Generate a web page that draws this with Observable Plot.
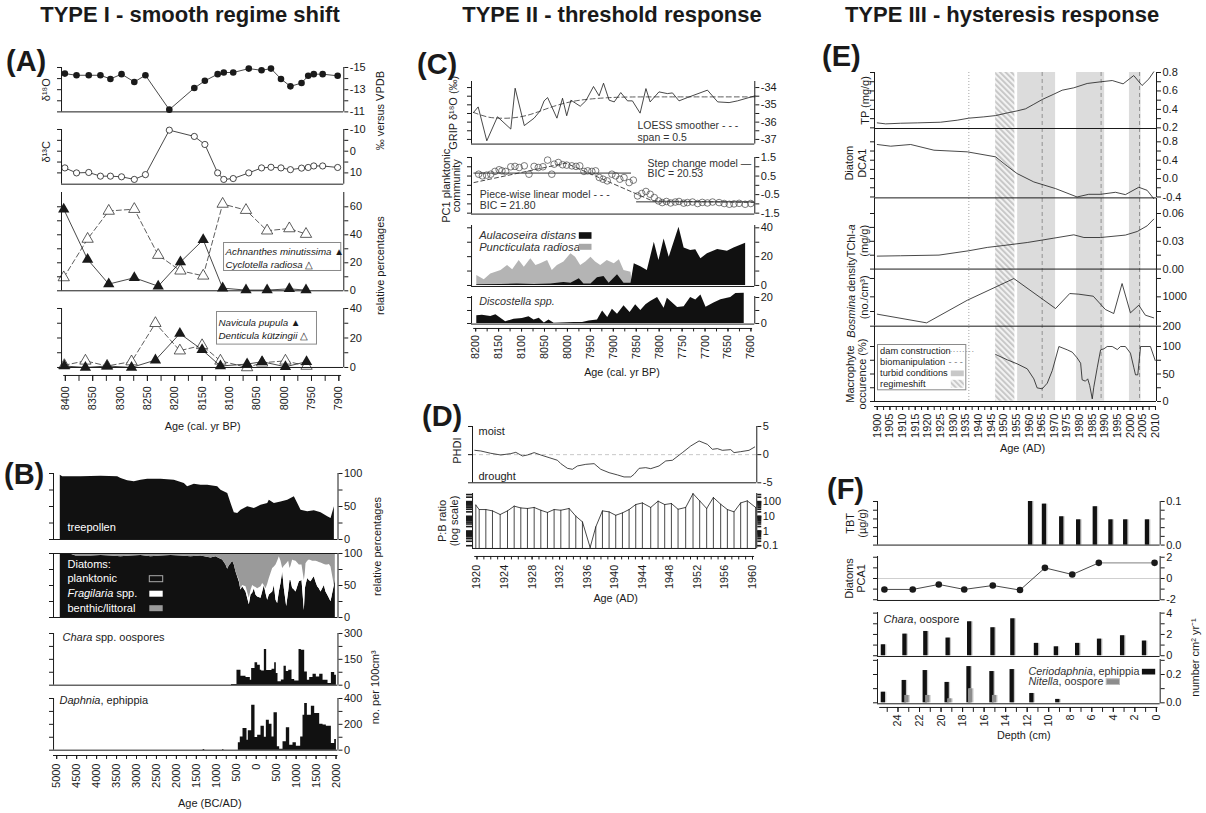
<!DOCTYPE html>
<html><head><meta charset="utf-8">
<script src="https://cdn.jsdelivr.net/npm/d3@7"></script>
<script src="https://cdn.jsdelivr.net/npm/@observablehq/plot@0.6"></script>
<style>
body{margin:0;background:#fff;}
#fig{position:relative;width:1206px;height:813px;overflow:hidden;font-family:"Liberation Sans",Arial,Helvetica,sans-serif;color:#1a1a1a;}
.ttl{position:absolute;top:4px;font-weight:bold;font-size:22px;line-height:1;text-align:center;white-space:nowrap;}
.lett{position:absolute;font-weight:bold;font-size:29px;line-height:1;}
</style></head><body><div id="fig">
<div class="ttl" style="left:20px;width:340px">TYPE I - smooth regime shift</div>
<div class="ttl" style="left:442px;width:340px">TYPE II - threshold response</div>
<div class="ttl" style="left:827px;width:350px">TYPE III - hysteresis response</div>
<div class="lett" style="left:6px;top:47px">(A)</div>
<div class="lett" style="left:4px;top:460px">(B)</div>
<div class="lett" style="left:417px;top:50px">(C)</div>
<div class="lett" style="left:422px;top:402px">(D)</div>
<div class="lett" style="left:822px;top:42px">(E)</div>
<div class="lett" style="left:827px;top:475px">(F)</div>
</div>
<script>
// ---------------- DATA ----------------
// Panel A
const aIsoAge = [8397,8376,8354,8333,8315,8295,8272,8252,8209,8164,8145,8122,8111,8094,8066,8043,8026,8008,7991,7971,7959,7949,7933,7906];
const aD18O = [-14.45,-14.3,-14.3,-14.3,-13.97,-14.4,-13.7,-14.3,-11.2,-13.15,-13.8,-14.4,-14.55,-14.55,-14.9,-14.75,-14.9,-13.97,-13.3,-13.6,-14.25,-14.4,-14.4,-14.25];
const aD13C = [7.7,10,9.8,11.5,11.5,11.8,13,10.8,-9.7,-6.8,-3.1,10,13,12.6,10,7.7,7.4,7.7,8.5,7.8,7.5,6.8,6.8,7.5];
const aDiatAge = [8399,8356,8318,8272,8229,8189,8148,8113,8071,8033,7993,7963];
const achnanthes = [58.3,22.4,4.8,9.3,3.3,20.5,36.4,1.9,0.5,0.5,1.4,0.5];
const cyclotella = [9.5,37,57,58.3,25.5,14.3,10.7,62,57.6,42.9,44.5,40.5];
const aDiat2Age = [8398,8360,8321,8277,8234,8190,8150,8117,8069,8042,8000,7962];
const navicula = [1,0,1,0,5,23,12,1,2.3,3.9,0.5,3.9];
const denticula = [1.5,4.5,1,4,30,11.4,15,4.5,0,3.2,4.5,1];
// Panel B
const bTreeAge = [-4910,-4850,-4391,-3890,-3471,-3388,-3221,-3055,-2887,-2719,-2385,-2053,-1802,-1718,-1551,-1384,-1216,-965,-882,-714,-631,-549,-464,-381,-213,-47,120,288,328,454,622,789,955,1040,1123,1290,1456,1624,1792,1875,1958];
const bTree = [97.5,95,95,96,95,92.4,88.9,87.4,89.9,91.4,91.4,89.9,84.8,79.8,83.8,82.3,82.3,79.8,74.7,69.7,54.5,40.4,39.4,44.4,49.5,47,52,54.5,59.6,54.5,57,59.6,64.6,54.5,44.4,41.9,43.4,40.4,34.3,31.8,49.5];
const bDiatAge = [-4910,-4642,-4516,-4140,-3890,-3639,-3389,-3138,-2887,-2637,-2386,-2136,-1885,-1635,-1384,-1133,-1008,-924,-841,-757,-716,-674,-632,-590,-549,-507,-423,-382,-340,-256,-173,-131,-89,-47,-6,36,120,161,203,245,287,328,412,454,496,537,579,621,663,704,763,813,846,871,913,930,997,1080,1147,1206,1231,1247,1289,1331,1373,1414,1456,1498,1540,1581,1623,1665,1707,1748,1790,1832,1874,1957,1982];
const bPlanktonic = [100,99,96,96,97,96,95,96,97,95,96,97,96,95,96,93,95,92,90,82,75.5,81,84,88,82,71,56,43,48,40,20,35,38,45,35,32,30,40,50,37.5,27,35,40,50,27,22,40,53,71,45,17,40,58,58,45,45,40,56,58,11,45,50,61,58,56,60,63.5,55,48,45,40,45,50,40,35,30,24.5,50,61];
const bFragilaria = [0,0,0,0,0,0,0,0,0,0,0,0,0,0,0,0,0,0,0,0,0,0,0,0,0,0,2,2,2,8,10,7,12,3,12,13,18,13,0,7.5,25,26,36.5,29,55,66,55,35,5.5,35,67,48,18.5,22,45,44,48,26,24,47,25,34,27,32,33,28,24.5,33,39,41,45,39,33,42,47,53,54.5,0,0];
const bBenthic = [0,1,4,4,3,4,5,4,3,5,4,3,4,5,4,7,5,8,10,18,24.5,19,16,12,18,29,42,55,50,52,70,58,50,52,53,55,52,47,50,55,48,39,23.5,21,18,12,5,12,23.5,20,16,12,23.5,20,10,11,12,18,18,42,30,16,12,10,11,12,12,12,13,14,15,16,17,18,18,17,21,50,39];
const bCharaAge = [-620,-482,-382,-256,-148,-114,-30,36,103,137,204,262,396,463,504,546,630,697,755,814,897,964,1073,1131,1215,1282,1340,1424,1507,1591,1675,1800,1884,1967,2010];
const bChara = [4,87,52,44.5,29,96.7,129.6,116,87,83,207,85,92.8,129.6,67.7,19.3,30,110,80,87,33,25,207,203,77,29,44.5,64,48,64,29,9.7,73.5,58,0];
const bDaphAge = [-1330,-1290,-840,-810,-448,-399,-331,-231,-198,-114,-30,36,120,204,254,329,396,446,530,588,672,755,839,922,1006,1114,1173,1215,1282,1382,1466,1591,1675,1758,1884,1967,2010];
const bDaph = [6,0,5,0,57,103,168,77,150,348,98,116,186,100,232,201,103,289,26,8,65,173,39,57,31,103,271,361,271,340,284,201,194,186,52,83,0];
// Panel C
const cGripAge = [8200,8190,8171.5,8148.6,8120,8110.7,8091,8070,8057,8048.5,8041,8021,8009,8000,7991,7971,7959,7942.5,7930.5,7921,7909,7898,7884,7869.5,7859,7842.5,7830,7821,7802,7784,7773,7759,7741,7698,7676,7651.5,7633.5,7596];
const cGrip = [-35.44,-35.12,-37.08,-35.69,-36.4,-34.04,-36.2,-35.77,-35.35,-34.77,-34.58,-35.77,-34.62,-35.63,-34.73,-35.08,-34.77,-33.94,-34.48,-33.75,-34.73,-34.83,-34.29,-34.77,-34.77,-35.48,-34.06,-34.83,-34.25,-34.35,-34.31,-34.77,-34.58,-34.15,-34.83,-34.87,-34.77,-34.48];
const cLoessAge = [8200,8170,8150,8120,8084,8056,8020,7984,7955,7912,7870,7800,7700,7596];
const cLoess = [-35.44,-35.73,-35.77,-35.79,-35.63,-35.35,-35.0,-34.77,-34.67,-34.58,-34.54,-34.54,-34.54,-34.54];
const cPcAge = [8189,8181,8172,8163,8154,8145,8139,8131,8120,8111,8102,8091,8081,8070,8061,8051,8041,8032,8027,8018,8009,8000,7989,7980,7972,7963,7955,7946,7938,7930,7922,7913,7903,7895,7886,7877,7866,7857,7848,7839,7830,7821,7812,7803,7795,7786,7777,7767,7759,7749,7741,7730,7719,7709,7698,7687,7673,7662,7651,7641,7630,7617,7605];
const cPc = [0.6,0.51,0.55,0.6,0.75,0.84,0.78,0.75,1.0,1.02,0.96,1.05,0.6,1.02,0.96,1.0,1.36,0.6,1.14,1.23,1.11,1.09,1.05,1.02,1.05,0.75,0.78,0.75,0.78,0.42,0.33,0.24,0.6,0.51,0.33,0.42,0.15,0.28,-0.57,-0.44,-0.33,-0.48,-0.66,-0.84,-0.93,-0.87,-0.95,-0.9,-0.87,-0.96,-0.93,-0.9,-0.98,-0.92,-0.95,-0.9,-0.93,-0.98,-1.02,-1.0,-0.97,-1.02,-0.98];
const cStepStart = [8199,7850];
const cStepEnd = [7861,7598];
const cStepLevel = [0.66,-0.89];
const cPwAge = [8199,8002,7816,7598];
const cPw = [0.15,1.2,-0.84,-0.92];
const cPunctAge = [8193,8177,8163,8141,8127,8116,8102,8091,8077,8066,8056,8041,8031,8020,8006,7991,7981,7970,7959,7948,7938,7927,7913,7898,7887,7877,7862,7859];
const cPunct = [7,4,8,10.4,13.9,10.9,17.3,12.7,18.5,13.9,15,17.3,10.4,13.9,16.2,22,19.6,13.9,16.2,19.6,16.2,13.9,17.3,15,17.8,10.4,9.2,0];
const cAulaAge = [8193,8141,8106,8070,8034,8006,7991,7973,7963,7948,7934,7920,7909,7891,7877,7862,7855,7841,7827,7812,7802,7791,7780,7766,7759,7748,7734,7723,7712,7698,7676,7655,7641,7616];
const cAula = [0.5,0.7,1,0.7,1,2,1.5,4.6,1,1,5.3,6.2,1.5,7.4,1.5,1.5,15,13,10.4,30,17.3,32.3,19.6,33.5,40.4,26,24.2,24.7,18.5,22,25,23.8,26,29.3];
const cDiscAge = [8193,8181,8163,8152,8131,8113,8095,8081,8070,8059,8048,8038,8027,8013,7998,7984,7966,7952,7934,7923,7912,7902,7891,7877,7864,7852,7841,7830,7820,7805,7791,7784,7762,7748,7734,7723,7712,7701,7684,7669,7648,7637,7619];
const cDisc = [5.9,6.4,5.4,6.7,1.3,3.3,3.8,5.1,2.6,4.1,0.3,2.6,0.2,0.4,0.6,0.8,0.8,2,2.6,9.7,4.6,11,7.2,13.6,8.5,14.4,10,14.4,17,20,11.8,19.5,12.3,12.8,20,18,22,12.5,15.75,18.25,20,23,23.2];
// Panel D
const dPhdiYear = [1920,1920.86,1922.29,1923.71,1925.14,1925.86,1926.81,1927.52,1928.48,1929.43,1930.62,1931.81,1932.29,1933.24,1933.95,1934.67,1935.86,1937.05,1938,1939.19,1940.38,1941.33,1942.29,1942.76,1943.48,1944.43,1945.14,1946.33,1947.29,1948.24,1949.67,1950.86,1952.05,1953.24,1953.95,1954.67,1955.38,1956.57,1957.05,1958,1959.19,1960];
const dPhdi = [0.77,0.65,0.24,-0.06,0.18,0.41,-0.24,-0.06,0.36,-0.06,-0.53,-1.0,-1.6,-2.43,-2.6,-2.01,-1.72,-1.6,-2.6,-3.2,-3.6,-3.96,-3.96,-3.49,-2.43,-2.31,-2.49,-2.01,-1.12,-1.0,0.36,1.54,2.43,1.83,0.95,1.07,0.77,0.89,0.36,0.53,0.77,1.36];
const dPbYear = [1920.14,1920.62,1921.57,1922.52,1923.62,1924.67,1925.62,1926.57,1927.52,1928.48,1929.43,1930.38,1931.33,1932.29,1933.48,1934.43,1935.38,1936.48,1937.29,1938.24,1939.19,1940.14,1941.1,1942.05,1943,1943.95,1945.14,1946.19,1947.14,1948.1,1949.05,1950.14,1951.19,1952.14,1953.14,1954.1,1955.14,1956.1,1957.05,1958,1958.95,1960.14];
const dPb = [57.5,28.8,28.8,23.4,13.2,23.4,49,37,34,40,25.7,18.2,28.8,25.7,34,10.2,4.2,0.076,1.9,23.4,20,11.7,17,28.8,63,81,40,107,63,74,30,40,350,112,34,190,66,28.8,20,81,112,40];
const dPbMin = 0.0646;
// Panel E
const eTpYear = [1900,1903.3,1909.2,1915.8,1925,1931.6,1936.2,1942.1,1946.8,1951.4,1955.3,1958.6,1961.9,1965.2,1969.8,1973.1,1977.7,1983,1988.3,1992.9,1997.2,2001.4,2004.7,2007.4,2009.3];
const eTp = [0.254,0.243,0.25,0.254,0.261,0.283,0.305,0.319,0.333,0.362,0.384,0.406,0.456,0.507,0.565,0.608,0.634,0.681,0.699,0.713,0.677,0.767,0.659,0.731,0.807];
const eDcaYear = [1900,1905.3,1913.2,1922.4,1935.6,1946.8,1951.4,1955.3,1961.9,1970.5,1979,1983.6,1988.3,1994.2,1998.1,2003.4,2006.7,2009.3];
const eDca = [0.742,0.705,0.742,0.618,0.582,0.473,0.269,0.109,-0.073,-0.218,-0.4,-0.342,-0.342,-0.298,-0.349,-0.189,-0.255,-0.436];
const eChlYear = [1900,1909.2,1924.4,1936.2,1943.5,1950,1959.3,1969.8,1977.7,1981.7,1988.3,1998.1,2002.8,2006.7,2009.3];
const eChl = [0.014,0.0144,0.0151,0.0198,0.0234,0.0255,0.0287,0.0334,0.037,0.0341,0.0341,0.0367,0.0406,0.0467,0.0539];
const eBosYear = [1900,1919.5,1935.6,1954,1970.5,1976.1,1979.7,1985.4,1990.2,1993.5,1996.8,2000.1,2003.4,2006,2009.3];
const eBos = [527,291,908,1498,681,1090,1072,1017,654,545,1362,563,772,500,427];
const eMacYear = [1946.8,1951.4,1955.3,1959.3,1961.9,1963.2,1965.2,1967.2,1969.2,1971.8,1975.1,1977.1,1979,1980.4,1981,1982.3,1983.2,1984,1985,1985.6,1987,1988.3,1989.6,1990.9,1992.9,1994.9,1996.2,1998.1,2000.1,2001.4,2002.1,2003,2004.1,2008,2009.9];
const eMac = [85.5,75.8,68.5,59.4,41.2,24.8,23,33.3,56.4,100,94,89.7,79.4,69.7,39.4,37,41.2,29,4.8,26,62.4,94,95.8,100,100,94.5,100,100,87.9,62.4,48.5,48.5,100,100,74.5];
const eTurbidStart = [1955.5,1978.8,1999.7];
const eTurbidEnd = [1970.5,1989.9,2004.3];
const eRegimeStart = [1946.8];
const eRegimeEnd = [1954.4];
const eDam = [1936.2];
const eBiomanip = [1965.2,1988.5,2003.7];
// Panel F
const fTbtDepth = [11.75,10.48,8.9,7.35,5.83,4.4,3.05,1.06];
const fTbt = [0.1,0.094,0.065,0.058,0.088,0.058,0.058,0.058];
const fPcaDepth = [25.07,22.48,20.1,17.77,15.16,12.67,10.39,7.89,5.46,0.36];
const fPca = [-1.03,-1.03,-0.56,-1.03,-0.66,-1.09,1.0,0.375,1.47,1.47];
const fCharaDepth = [25.21,23.24,21.33,19.29,17.32,15.19,13.37,11.21,9.39,7.44,5.44,3.33,1.33];
const fChara = [1.03,2.03,2.28,1.66,3.19,2.63,3.47,1.16,0.84,1.16,1.56,1.88,1.38];
const fCerioDepth = [25.21,23.3,21.38,19.38,17.38,15.28,13.43,11.63,9.26];
const fCerio = [0.075,0.158,0.228,0.144,0.256,0.221,0.235,0.066,0.024];
const fNitDepth = [23.06,21.15,19.14,17.23,15.04];
const fNit = [0.052,0.052,0.028,0.099,0.052];
// tick labels
const aXLabels = [8400,8350,8300,8250,8200,8150,8100,8050,8000,7950,7900];
const bXLabels = [-5000,-4500,-4000,-3500,-3000,-2500,-2000,-1500,-1000,-500,0,500,1000,1500,2000];
const cXLabels = [8200,8150,8100,8050,8000,7950,7900,7850,7800,7750,7700,7650,7600];
const dXLabels = [1920,1924,1928,1932,1936,1940,1944,1948,1952,1956,1960];
const eXLabels = [1900,1905,1910,1915,1920,1925,1930,1935,1940,1945,1950,1955,1960,1965,1970,1975,1980,1985,1990,1995,2000,2005,2010];
const fXLabels = [24,22,20,18,16,14,12,10,8,6,4,2,0];

// ---------------- HELPERS ----------------
const INK = "#1a1a1a";
const FONT = '"Liberation Sans", Arial, Helvetica, sans-serif';
const fig = document.getElementById("fig");
const pts = (xs, ys) => xs.map((x, i) => ({x, y: ys[i]}));

function richify(svg) {
  svg.querySelectorAll("text, tspan").forEach(n => {
    if (n.children.length === 0 && n.textContent.includes("<i>")) {
      n.innerHTML = n.textContent.replace(/<i>/g, '<tspan font-style="italic">').replace(/<\/i>/g, "</tspan>");
    }
  });
}
function mk(left, top, w, h, opts) {
  const svg = Plot.plot({
    width: w, height: h, margin: 0, ...opts,
    style: {position: "absolute", left: left + "px", top: top + "px", overflow: "visible",
      background: "transparent", fontFamily: FONT, fontSize: "11px", color: INK, maxWidth: "none"}
  });
  richify(svg);
  fig.appendChild(svg);
  return svg;
}
function sub(o) {
  const marks = [...(o.marks || [])];
  marks.push(Plot.ruleX([o.xd[0]], {stroke: INK}), Plot.ruleX([o.xd[1]], {stroke: INK}));
  if (o.bottom !== false) marks.push(Plot.ruleY([o.yd[0]], {stroke: INK}));
  const hasAxis = o.lt || o.rt || o.rl;
  const lw = o.tickWidth || 1;
  if (o.lt) marks.push(Plot.axisY(o.lt, {anchor: "left", tickSize: o.ltSize || 4, strokeWidth: lw, tickFormat: () => "", label: null}));
  if (o.rt) marks.push(Plot.axisY(o.rt, {anchor: "right", tickSize: 4, strokeWidth: lw, tickFormat: () => "", label: null}));
  if (o.rl) marks.push(Plot.axisY(o.rl, {anchor: "right", tickSize: 4, tickPadding: 2, tickFormat: o.fmt || (d => String(d)), label: null}));
  if (o.texts) marks.push(...o.texts);
  const ys = {domain: o.yd, type: o.yt || "linear", label: null};
  if (!hasAxis) ys.axis = null;
  const opts = {x: {domain: o.xd, axis: null, label: null}, y: ys, marks};
  if (o.color) opts.color = o.color;
  return mk(o.left, o.top, o.w, o.h, opts);
}
function xstrip(o) {
  const marks = [
    Plot.ruleY([0], {stroke: INK}),
    Plot.axisX(o.minor, {anchor: "bottom", tickSize: o.ts, tickFormat: () => "", label: null}),
    Plot.axisX(o.major, {anchor: "bottom", tickSize: o.ts, tickRotate: -90, tickPadding: o.pad,
      tickFormat: o.fmt || (d => String(d)), label: null}),
    Plot.text([o.title], {text: d => d, frameAnchor: "bottom", dx: o.tdx, dy: o.tdy, lineAnchor: "middle", textAnchor: "middle", fill: INK})
  ];
  return mk(o.left, o.top - 1, o.w, 1, {x: {domain: o.xd, label: null}, y: {domain: [0, 1], axis: null}, marks});
}
function label(t, o) {
  return Plot.text([t], {text: d => d, textAnchor: "middle", lineAnchor: "middle", fill: INK, ...o});
}
function note(t, o) {
  return Plot.text([t], {text: d => d, frameAnchor: "top-left", textAnchor: "start", lineAnchor: "middle", fill: INK, ...o});
}
function legendBox(left, top, w, h, texts) {
  return mk(left, top, w, h, {x: {axis: null}, y: {axis: null}, marks: [Plot.frame({stroke: "#8a8a8a", fill: "white"}), ...texts]});
}
const range = (a, b, s) => d3.range(a, b + s / 2, s);

// ---------------- PANEL A ----------------
const aXd = [8403, 7895];
const aIso = aIsoAge.map((x, i) => ({x, d18: aD18O[i], d13: aD13C[i]}));
sub({left: 61, top: 67.3, w: 282.3, h: 44.4, xd: aXd, yd: [-11, -15],
  lt: [-15,-14,-13,-12,-11], rt: [-14,-12], rl: [-15,-13,-11],
  marks: [Plot.line(aIso, {x: "x", y: "d18", stroke: INK, strokeWidth: 0.8}),
          Plot.dot(aIso, {x: "x", y: "d18", r: 3.3, fill: INK})],
  texts: [label("δ¹⁸O", {frameAnchor: "left", rotate: -90, dx: -15}),
          label("‰ versus VPDB", {frameAnchor: "right", rotate: -90, dx: 37, dy: 21})]});
sub({left: 61, top: 129.3, w: 282.3, h: 54.7, xd: aXd, yd: [15.2, -10],
  lt: [-10,-5,0,5,10], rt: [-5,5], rl: [-10,0,10],
  marks: [Plot.line(aIso, {x: "x", y: "d13", stroke: INK, strokeWidth: 0.8}),
          Plot.dot(aIso, {x: "x", y: "d13", r: 3.1, fill: "white", stroke: INK, strokeWidth: 0.8})],
  texts: [label("δ¹³C", {frameAnchor: "left", rotate: -90, dx: -15, dy: -5})]});
const aAch = pts(aDiatAge, achnanthes), aCyc = pts(aDiatAge, cyclotella);
sub({left: 61, top: 191.7, w: 282.3, h: 98.3, xd: aXd, yd: [0, 70.2],
  lt: [0,10,20,30,40,50,60], rt: [10,30,50], rl: [0,20,40,60],
  marks: [Plot.line(aCyc, {x: "x", y: "y", stroke: "#333", strokeWidth: 0.8, strokeDasharray: "5,3"}),
          Plot.dot(aCyc, {x: "x", y: "y", symbol: "triangle", r: 4.2, fill: "white", stroke: INK, strokeWidth: 0.7}),
          Plot.line(aAch, {x: "x", y: "y", stroke: INK, strokeWidth: 0.8}),
          Plot.dot(aAch, {x: "x", y: "y", symbol: "triangle", r: 4.2, fill: INK})],
  texts: [label("relative percentages", {frameAnchor: "right", rotate: -90, dx: 37, dy: 24})]});
legendBox(222.7, 242, 117.3, 28, [
  note("<i>Achnanthes minutissima</i> ▲", {dx: 2, dy: 9, fontSize: 9.8}),
  note("<i>Cyclotella radiosa</i> △", {dx: 2, dy: 22, fontSize: 9.8})]);
const aNav = pts(aDiat2Age, navicula), aDen = pts(aDiat2Age, denticula);
sub({left: 61, top: 308.3, w: 282.3, h: 59, xd: aXd, yd: [0, 40],
  lt: [0,10,20,30,40], rt: [10,30], rl: [0,20,40],
  marks: [Plot.line(aDen, {x: "x", y: "y", stroke: "#333", strokeWidth: 0.8, strokeDasharray: "5,3"}),
          Plot.dot(aDen, {x: "x", y: "y", symbol: "triangle", r: 4.2, fill: "white", stroke: INK, strokeWidth: 0.7}),
          Plot.line(aNav, {x: "x", y: "y", stroke: INK, strokeWidth: 0.8}),
          Plot.dot(aNav, {x: "x", y: "y", symbol: "triangle", r: 4.2, fill: INK})]});
legendBox(216, 310.7, 100, 32.6, [
  note("<i>Navicula pupula</i> ▲", {dx: 2, dy: 11, fontSize: 9.8}),
  note("<i>Denticula kützingii</i> △", {dx: 2, dy: 24, fontSize: 9.8})]);
xstrip({left: 61, top: 375, w: 282.3, xd: aXd, minor: range(7900, 8400, 25), major: aXLabels,
  ts: 6, pad: 5, title: "Age (cal. yr BP)", tdx: 0, tdy: 52});

// ---------------- PANEL B ----------------
const bXd = [-5080, 2049];
sub({left: 52.5, top: 473.3, w: 284.5, h: 66, xd: bXd, yd: [0, 100],
  lt: [0,25,50,75,100], rt: [25,75], rl: [0,50,100],
  marks: [Plot.areaY(pts(bTreeAge, bTree), {x: "x", y: "y", fill: "#111"})],
  texts: [note("treepollen", {dx: 14, dy: 54, fill: "white"}),
          label("relative percentages", {frameAnchor: "right", rotate: -90, dx: 39, dy: 40})]});
const bDiat = [
  ...bDiatAge.map((x, i) => ({x, y: bPlanktonic[i], taxon: "planktonic"})),
  ...bDiatAge.map((x, i) => ({x, y: bFragilaria[i], taxon: "Fragilaria"})),
  ...bDiatAge.map((x, i) => ({x, y: bBenthic[i], taxon: "benthic"}))];
sub({left: 52.5, top: 553.3, w: 284.5, h: 64, xd: bXd, yd: [0, 100],
  lt: [0,25,50,75,100], rt: [25,75], rl: [0,50,100],
  color: {domain: ["planktonic", "Fragilaria", "benthic"], range: ["#111", "#ffffff", "#9a9a9a"]},
  marks: [Plot.areaY(bDiat, {x: "x", y: "y", z: "taxon", fill: "taxon", order: null}),
          Plot.ruleY([100], {stroke: INK})],
  texts: [note("Diatoms:", {dx: 14, dy: 10.7, fill: "white"}),
          note("planktonic", {dx: 14, dy: 25.2, fill: "white"}),
          note("<i>Fragilaria</i> spp.", {dx: 14, dy: 40.2, fill: "white"}),
          note("benthic/littoral", {dx: 14, dy: 54.7, fill: "white"}),
          Plot.frame({insetLeft: 95.8, insetRight: 175.3, insetTop: 22.2, insetBottom: 35.8, stroke: "#aaa", fill: "#111"}),
          Plot.frame({insetLeft: 95.8, insetRight: 175.3, insetTop: 37.2, insetBottom: 20.8, stroke: "none", fill: "white"}),
          Plot.frame({insetLeft: 95.8, insetRight: 175.3, insetTop: 51.7, insetBottom: 6.3, stroke: "none", fill: "#9a9a9a"})]});
sub({left: 52.5, top: 633.3, w: 284.5, h: 51.7, xd: bXd, yd: [0, 300],
  lt: [0,75,150,225,300], rt: [75,225], rl: [0,150,300],
  marks: [Plot.areaY(pts(bCharaAge, bChara), {x: "x", y: "y", curve: "step-after", fill: "#111"})],
  texts: [note("<i>Chara</i> spp. oospores", {dx: 9, dy: 3.5}),
          label("no. per 100cm³", {frameAnchor: "right", rotate: -90, dx: 38, dy: 28})]});
sub({left: 52.5, top: 698.3, w: 284.5, h: 51.7, xd: bXd, yd: [0, 400],
  lt: [0,100,200,300,400], rt: [100,300], rl: [0,200,400],
  marks: [Plot.areaY(pts(bDaphAge, bDaph), {x: "x", y: "y", curve: "step-after", fill: "#111"})],
  texts: [note("<i>Daphnia</i>, ephippia", {dx: 6, dy: 2})]});
xstrip({left: 52.5, top: 755, w: 284.5, xd: bXd, minor: range(-5000, 2000, 250), major: bXLabels,
  fmt: d => String(Math.abs(d)), ts: 4, pad: 4, title: "Age (BC/AD)", tdx: 14, tdy: 48});

// ---------------- PANEL C ----------------
const cXd = [8204.3, 7596.4];
sub({left: 470.7, top: 80.7, w: 283.3, h: 62.6, xd: cXd, yd: [-37.27, -33.65],
  lt: [-37,-36.5,-36,-35.5,-35,-34.5,-34], rt: [-36.5,-35.5,-34.5], rl: [-37,-36,-35,-34],
  marks: [Plot.line(pts(cLoessAge, cLoess), {x: "x", y: "y", stroke: "#333", strokeWidth: 0.8, strokeDasharray: "5,3", curve: "basis"}),
          Plot.line(pts(cGripAge, cGrip), {x: "x", y: "y", stroke: INK, strokeWidth: 0.8})],
  texts: [label("GRIP δ¹⁸O (‰)", {frameAnchor: "left", rotate: -90, dx: -18}),
          note("LOESS smoother - - -", {dx: 166, dy: 44, fill: "#333", fontSize: 10.5}),
          note("span = 0.5", {dx: 166, dy: 56, fill: "#333", fontSize: 10.5})]});
const cSteps = cStepStart.map((s, i) => ({s, e: cStepEnd[i], v: cStepLevel[i]}));
sub({left: 470.7, top: 156.7, w: 283.3, h: 56.6, xd: cXd, yd: [-1.55, 1.5],
  lt: [-1.5,-1,-0.5,0,0.5,1,1.5], rt: [-1,0,1], rl: [-1.5,-0.5,0.5,1.5],
  marks: [Plot.ruleY(cSteps, {y: "v", x1: "s", x2: "e", stroke: INK, strokeWidth: 0.9}),
          Plot.line(pts(cPwAge, cPw), {x: "x", y: "y", stroke: "#333", strokeWidth: 0.9, strokeDasharray: "4,3"}),
          Plot.dot(pts(cPcAge, cPc), {x: "x", y: "y", r: 3.3, stroke: "#444", strokeWidth: 0.7, fill: "none"})],
  texts: [label("PC1 planktonic\ncommunity", {frameAnchor: "left", rotate: -90, dx: -20, lineHeight: 0.95}),
          note("Step change model —", {dx: 176, dy: 6, fill: "#333", fontSize: 10.5}),
          note("BIC = 20.53", {dx: 176, dy: 16.6, fill: "#333", fontSize: 10.5}),
          note("Piece-wise linear model - - -", {dx: 8.3, dy: 37.3, fill: "#333", fontSize: 10.5}),
          note("BIC = 21.80", {dx: 8.3, dy: 48.3, fill: "#333", fontSize: 10.5})]});
sub({left: 470.7, top: 225, w: 283.3, h: 61, xd: cXd, yd: [-0.7, 41.6],
  lt: [0,10,20,30,40], rt: [10,30], rl: [0,20,40],
  marks: [Plot.areaY(pts(cPunctAge, cPunct), {x: "x", y: "y", fill: "#b4b4b4"}),
          Plot.areaY(pts(cAulaAge, cAula), {x: "x", y: "y", fill: "#111"})],
  texts: [note("<i>Aulacoseira distans</i>", {dx: 7.6, dy: 10, fontSize: 11.2, fill: "#333"}),
          note("<i>Puncticulata radiosa</i>", {dx: 7.6, dy: 21.7, fontSize: 11.2, fill: "#333"}),
          Plot.frame({insetLeft: 107.3, insetRight: 163.3, insetTop: 6.7, insetBottom: 47.7, stroke: "none", fill: "#111"}),
          Plot.frame({insetLeft: 107.3, insetRight: 163.3, insetTop: 18.3, insetBottom: 36.7, stroke: "none", fill: "#a8a8a8"})]});
sub({left: 470.7, top: 295.7, w: 283.3, h: 27.6, xd: cXd, yd: [-0.46, 20.77],
  lt: [0,10,20], rt: [10], rl: [0,20],
  marks: [Plot.areaY(pts(cDiscAge, cDisc), {x: "x", y: "y", fill: "#111"})],
  texts: [note("<i>Discostella spp.</i>", {dx: 7.6, dy: 5, fontSize: 10.8, fill: "#333"})]});
xstrip({left: 470.7, top: 328.3, w: 283.3, xd: cXd, minor: range(7600, 8200, 25), major: cXLabels,
  ts: 3.5, pad: 3, title: "Age (cal. yr BP)", tdx: 9, tdy: 45});

// ---------------- PANEL D ----------------
const dXd = [1919.67, 1960.3];
sub({left: 471.7, top: 425.7, w: 284.3, h: 56.3, xd: dXd, yd: [-5, 5],
  lt: [-5,0,5], rl: [-5,0,5],
  marks: [Plot.ruleY([0], {stroke: "#c8c8c8", strokeDasharray: "4,3"}),
          Plot.line(pts(dPhdiYear, dPhdi), {x: "x", y: "y", stroke: INK, strokeWidth: 0.8})],
  texts: [label("PHDI", {frameAnchor: "left", rotate: -90, dx: -15, dy: -4}),
          note("moist", {dx: 6, dy: 4.5}),
          note("drought", {dx: 6, dy: 49.5})]});
const dLog = [0.1,0.2,0.3,0.4,0.5,0.6,0.7,0.8,0.9,1,2,3,4,5,6,7,8,9,10,20,30,40,50,60,70,80,90,100,200,300];
const dPbPts = pts(dPbYear, dPb);
sub({left: 471.7, top: 493.3, w: 284.3, h: 55, xd: dXd, yd: [dPbMin, 355], yt: "log",
  lt: dLog, rt: dLog, rl: [0.1, 1, 10, 100], ltSize: 6, tickWidth: 1.6,
  marks: [Plot.ruleX(dPbPts, {x: "x", y1: dPbMin, y2: "y", stroke: INK, strokeWidth: 0.8}),
          Plot.line(dPbPts, {x: "x", y: "y", stroke: INK, strokeWidth: 0.8})],
  texts: [label("P:B ratio\n(log scale)", {frameAnchor: "left", rotate: -90, dx: -24, lineHeight: 1.1})]});
xstrip({left: 471.7, top: 556, w: 284.3, xd: dXd, minor: range(1920, 1960, 1), major: dXLabels,
  ts: 3.5, pad: 5, title: "Age (AD)", tdx: 1, tdy: 43});

// ---------------- PANEL E ----------------
const eXd = [1898.9, 2010.4];
const eTurbid = eTurbidStart.map((s, i) => ({s, e: eTurbidEnd[i]}));
const eRegime = eRegimeStart.map((s, i) => ({s, e: eRegimeEnd[i]}));
const ov = mk(874, 72.3, 282, 328.7, {x: {domain: eXd, axis: null, label: null}, y: {domain: [0, 1], axis: null},
  marks: [Plot.rect(eTurbid, {x1: "s", x2: "e", fill: "#dcdcdc"}),
          Plot.rect(eRegime, {x1: "s", x2: "e", fill: "url(#hatchE)"}),
          Plot.ruleX(eDam, {stroke: "#9a9a9a", strokeDasharray: "1,2", strokeWidth: 0.9}),
          Plot.ruleX(eBiomanip, {stroke: "#888", strokeDasharray: "4,3", strokeWidth: 0.9})]});
{
  const defs = d3.select(ov).insert("defs", ":first-child");
  const pat = defs.append("pattern").attr("id", "hatchE").attr("patternUnits", "userSpaceOnUse")
    .attr("width", 4).attr("height", 4).attr("patternTransform", "rotate(-45)");
  pat.append("rect").attr("width", 4).attr("height", 4).attr("fill", "#f2f2f2");
  pat.append("rect").attr("width", 1.8).attr("height", 4).attr("fill", "#c4c4c4");
}
sub({left: 874, top: 72.3, w: 282, h: 56, xd: eXd, yd: [0.193, 0.8],
  lt: [0.2,0.3,0.4,0.5,0.6,0.7,0.8], rt: [0.3,0.5,0.7], rl: [0.2,0.4,0.6,0.8], fmt: d => d.toFixed(1),
  marks: [Plot.line(pts(eTpYear, eTp), {x: "x", y: "y", stroke: INK, strokeWidth: 0.8})],
  texts: [label("TP (mg/g)", {frameAnchor: "left", rotate: -90, dx: -9})]});
sub({left: 874, top: 128.3, w: 282, h: 69.4, xd: eXd, yd: [-0.42, 1.09],
  lt: [-0.4,-0.2,0,0.2,0.4,0.6,0.8], rt: [-0.2,0.2,0.6], rl: [-0.4,0,0.4,0.8], fmt: d => d.toFixed(1),
  marks: [Plot.line(pts(eDcaYear, eDca), {x: "x", y: "y", stroke: INK, strokeWidth: 0.8})],
  texts: [label("Diatom\nDCA1", {frameAnchor: "left", rotate: -90, dx: -19, dy: 0, lineHeight: 1.2})]});
sub({left: 874, top: 197.7, w: 282, h: 70.6, xd: eXd, yd: [0, 0.0762],
  lt: [0,0.015,0.03,0.045,0.06], rt: [0.015,0.045], rl: [0,0.03,0.06], fmt: d => d.toFixed(2),
  marks: [Plot.line(pts(eChlYear, eChl), {x: "x", y: "y", stroke: INK, strokeWidth: 0.8})],
  texts: [label("TChl-<i>a</i>\n(mg/g)", {frameAnchor: "left", rotate: -90, dx: -17, dy: 7, lineHeight: 1.2})]});
sub({left: 874, top: 268.3, w: 282, h: 57.7, xd: eXd, yd: [200, 1772],
  lt: [200,600,1000,1500], rt: [600,1500], rl: [200,1000],
  marks: [Plot.line(pts(eBosYear, eBos), {x: "x", y: "y", stroke: INK, strokeWidth: 0.8})],
  texts: [label("<i>Bosmina</i> density\n(no./cm³)", {frameAnchor: "left", rotate: -90, dx: -17, lineHeight: 1.2})]});
sub({left: 874, top: 326, w: 282, h: 75, xd: eXd, yd: [0, 136.4],
  lt: [0,25,50,75,100], rt: [25,75], rl: [0,50,100],
  marks: [Plot.line(pts(eMacYear, eMac), {x: "x", y: "y", stroke: INK, strokeWidth: 0.8})],
  texts: [label("Macrophyte\noccurence (%)", {frameAnchor: "left", rotate: -90, dx: -18, dy: 10, lineHeight: 1.1})]});
legendBox(876.7, 344, 88.3, 45.3, [
  note("dam construction", {dx: 2.6, dy: 6.7, fontSize: 9.3}),
  note("········", {dx: 72, dy: 6.7, fontSize: 9.3, fill: "#999"}),
  note("biomanipulation", {dx: 2.6, dy: 18, fontSize: 9.3}),
  note("- - -", {dx: 71, dy: 18, fontSize: 9.3, fill: "#777"}),
  note("turbid conditions", {dx: 2.6, dy: 29, fontSize: 9.3}),
  note("regimeshift", {dx: 2.6, dy: 40, fontSize: 9.3}),
  Plot.frame({insetLeft: 73.3, insetRight: 2, insetTop: 26, insetBottom: 13.6, stroke: "none", fill: "#c8c8c8"}),
  Plot.frame({insetLeft: 73.3, insetRight: 2, insetTop: 35.3, insetBottom: 2, stroke: "none", fill: "url(#hatchE)"})]);
xstrip({left: 874, top: 406, w: 282, xd: eXd, minor: range(1900, 2010, 2.5), major: eXLabels,
  ts: 4, pad: 3, title: "Age (AD)", tdx: 7, tdy: 42.3});

// ---------------- PANEL F ----------------
const fXd = [25.7, -0.15];
const bars = (data, col, shadow, w) => [
  Plot.ruleX(data, {x: "x", y1: 0, y2: "y", stroke: shadow, strokeWidth: w, dx: 1.3}),
  Plot.ruleX(data, {x: "x", y1: 0, y2: "y", stroke: col, strokeWidth: w})];
sub({left: 877.3, top: 500.7, w: 282.7, h: 43.6, xd: fXd, yd: [0, 0.1],
  lt: [0,0.02,0.04,0.06,0.08,0.1], rt: [0.02,0.04,0.06,0.08], rl: [0, 0.1], fmt: d => d.toFixed(1),
  marks: bars(pts(fTbtDepth, fTbt), "#111", "#c8c8c8", 4.3),
  texts: [label("TBT\n(µg/g)", {frameAnchor: "left", rotate: -90, dx: -21, lineHeight: 1.1})]});
const fPcaPts = pts(fPcaDepth, fPca);
sub({left: 877.3, top: 556, w: 282.7, h: 44, xd: fXd, yd: [-2.07, 2.07],
  lt: [-2,-1,0,1,2], rt: [-1,1], rl: [-2,0,2],
  marks: [Plot.ruleY([0], {stroke: "#cfcfcf"}),
          Plot.line(fPcaPts.slice(0, 9), {x: "x", y: "y", stroke: INK, strokeWidth: 0.8}),
          Plot.line(fPcaPts.slice(8), {x: "x", y: "y", stroke: "#999", strokeWidth: 1.3}),
          Plot.dot(fPcaPts, {x: "x", y: "y", r: 3.3, fill: INK})],
  texts: [label("Diatoms\nPCA1", {frameAnchor: "left", rotate: -90, dx: -22, lineHeight: 1.1})]});
sub({left: 877.3, top: 611.7, w: 282.7, h: 44, xd: fXd, yd: [-0.07, 4.06],
  lt: [0,1,2,3,4], rt: [1,3], rl: [0,2,4],
  marks: bars(pts(fCharaDepth, fChara), "#111", "#c8c8c8", 4.3),
  texts: [note("<i>Chara</i>, oospore", {dx: 6, dy: 6.6}),
          label("number cm² yr⁻¹", {frameAnchor: "right", rotate: -90, dx: 35, dy: 23})]});
sub({left: 877.3, top: 659, w: 282.7, h: 44.3, xd: fXd, yd: [-0.007, 0.306],
  lt: [0,0.1,0.2,0.3], rt: [0.1,0.3], rl: [0,0.2], fmt: d => d.toFixed(1),
  marks: [...bars(pts(fCerioDepth, fCerio), "#111", "#c8c8c8", 4.3),
          ...bars(pts(fNitDepth, fNit), "#8c8c8c", "#d0d0d0", 4.3)],
  texts: [note("<i>Ceriodaphnia</i>, ephippia", {dx: 151, dy: 12, fontSize: 10.8, fill: "#333"}),
          note("<i>Nitella</i>, oospore", {dx: 151, dy: 22, fontSize: 10.8, fill: "#333"}),
          Plot.frame({insetLeft: 264.4, insetRight: 5, insetTop: 9.3, insetBottom: 29.3, stroke: "none", fill: "#111"}),
          Plot.frame({insetLeft: 228.7, insetRight: 40.7, insetTop: 19.3, insetBottom: 19.3, stroke: "#bbb", fill: "#8c8c8c"})]});
xstrip({left: 877.3, top: 706.7, w: 282.7, xd: fXd, minor: range(0, 25, 1), major: fXLabels,
  ts: 5, pad: 2, title: "Depth (cm)", tdx: 5, tdy: 29});
</script></body></html>
